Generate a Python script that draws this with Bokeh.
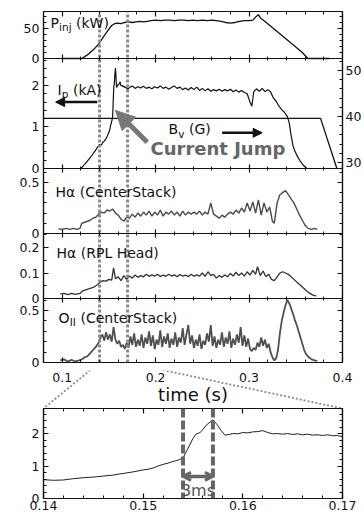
from bokeh.plotting import figure
from bokeh.models import (Range1d, LinearAxis, Label, Arrow, NormalHead, OpenHead, Span,
                          SingleIntervalTicker, FixedTicker, NumeralTickFormatter,
                          CustomJSTickFormatter)
from bokeh.core.properties import value
from bokeh.layouts import column
from bokeh.embed import file_html
from bokeh.resources import INLINE

# ---------------- data ----------------
x_main = [0.08, 0.40]        # time axis of the stacked panels (s)
x_main_ticks = [0.1, 0.2, 0.3, 0.4]
x_zoom = [0.14, 0.17]        # zoom window, marked by the dotted lines
x_zoom_ticks = [0.14, 0.15, 0.16, 0.17]
jump_t = [0.154, 0.157]      # the 3 ms current jump
main_ticks_label = "time (s)"

pinj_t = [0.100, 0.121, 0.127, 0.133, 0.138, 0.142, 0.146, 0.150, 0.153, 0.156,
          0.159, 0.163, 0.167, 0.171, 0.175, 0.179, 0.183, 0.187, 0.191, 0.195,
          0.200, 0.205, 0.210, 0.215, 0.220, 0.225, 0.230, 0.235, 0.240, 0.245,
          0.250, 0.255, 0.260, 0.265, 0.270, 0.275, 0.280, 0.285, 0.290, 0.295,
          0.300, 0.304, 0.307, 0.310, 0.312, 0.320, 0.330, 0.340, 0.350, 0.357,
          0.363, 0.375, 0.386]
pinj_kw = [0, 0, 6, 14, 22, 31, 40, 49, 55, 58,
           59, 58, 60, 61, 60, 61, 62, 61, 62, 63,
           64, 63, 64, 64, 63, 64, 64, 63, 64, 63,
           64, 63, 64, 63, 62, 60, 59, 60, 62, 63,
           63, 64, 69, 73, 68, 58, 45, 32, 19, 10,
           0, 0, 0]

ip_rise_t = [0.120, 0.124, 0.128, 0.132, 0.136]
ip_rise = [0.00, 0.10, 0.21, 0.32, 0.45]

zoom_t = [0.1400, 0.1410, 0.1420, 0.1430, 0.1440, 0.1450, 0.1460, 0.1470, 0.1475, 0.1480,
          0.1490, 0.1500, 0.1505, 0.1510, 0.1515, 0.1520, 0.1525, 0.1530, 0.1535, 0.1540,
          0.1545, 0.1550, 0.1553, 0.1557, 0.1560, 0.1563, 0.1567, 0.1570, 0.1574, 0.1578,
          0.1582, 0.1586, 0.1590, 0.1595, 0.1600, 0.1605, 0.1610, 0.1615, 0.1620, 0.1625,
          0.1630, 0.1635, 0.1640, 0.1645, 0.1650, 0.1655, 0.1660, 0.1665, 0.1670, 0.1675,
          0.1680, 0.1685, 0.1690, 0.1695, 0.1700]
zoom_ip = [0.58, 0.56, 0.57, 0.61, 0.64, 0.66, 0.69, 0.72, 0.75, 0.77,
           0.82, 0.88, 0.90, 0.94, 1.00, 1.05, 1.09, 1.14, 1.18, 1.25,
           1.55, 1.85, 1.98, 2.03, 2.12, 2.25, 2.35, 2.42, 2.28, 2.10,
           1.95, 1.97, 2.00, 1.99, 2.03, 2.02, 2.05, 2.06, 2.09, 2.03,
           1.99, 2.00, 1.98, 2.00, 1.97, 1.99, 1.96, 1.98, 1.95, 1.96,
           1.94, 1.96, 1.93, 1.94, 1.90]

ip_late = [(0.172, 1.95), (0.175, 1.99), (0.178, 1.93), (0.181, 1.97), (0.184, 1.94),
           (0.187, 1.98), (0.190, 1.93), (0.193, 1.96), (0.196, 1.92), (0.199, 1.97),
           (0.202, 1.94), (0.205, 1.99), (0.208, 1.93), (0.211, 1.96), (0.214, 1.91),
           (0.217, 1.95), (0.220, 1.99), (0.223, 1.93), (0.226, 1.96), (0.229, 1.90),
           (0.232, 1.94), (0.235, 1.89), (0.238, 1.95), (0.241, 1.90), (0.244, 1.96),
           (0.247, 1.88), (0.250, 1.93), (0.253, 1.87), (0.256, 1.92), (0.259, 1.86),
           (0.262, 1.90), (0.265, 1.87), (0.268, 1.91), (0.271, 1.86), (0.274, 1.90),
           (0.277, 1.87), (0.280, 1.91), (0.283, 1.85), (0.286, 1.89), (0.289, 1.84),
           (0.292, 1.88), (0.295, 1.83), (0.298, 1.80), (0.301, 1.60), (0.303, 1.50),
           (0.305, 1.85), (0.308, 1.92), (0.311, 1.86), (0.314, 1.93), (0.317, 1.85),
           (0.320, 1.90), (0.323, 1.85), (0.326, 1.70), (0.329, 1.62), (0.332, 1.50),
           (0.335, 1.42), (0.338, 1.35), (0.341, 1.25), (0.343, 1.10), (0.345, 0.80),
           (0.347, 0.55), (0.349, 0.42), (0.352, 0.28), (0.355, 0.17), (0.358, 0.08),
           (0.362, 0.00)]

bv_t = [0.080, 0.3765, 0.394]
bv_g = [39.6, 39.6, 28.7]

ha_cs = [(0.096, 0.045), (0.100, 0.040), (0.104, 0.050), (0.108, 0.040), (0.112, 0.050),
         (0.116, 0.040), (0.119, 0.050), (0.121, 0.10), (0.124, 0.11), (0.127, 0.12),
         (0.130, 0.13), (0.133, 0.15), (0.136, 0.16), (0.139, 0.19), (0.142, 0.21),
         (0.145, 0.20), (0.148, 0.23), (0.151, 0.22), (0.154, 0.24), (0.157, 0.20),
         (0.160, 0.18), (0.163, 0.14), (0.166, 0.12), (0.169, 0.16), (0.172, 0.15),
         (0.175, 0.19), (0.178, 0.16), (0.181, 0.20), (0.184, 0.17), (0.187, 0.21),
         (0.190, 0.18), (0.193, 0.22), (0.196, 0.17), (0.199, 0.21), (0.202, 0.18),
         (0.205, 0.23), (0.208, 0.17), (0.211, 0.21), (0.214, 0.19), (0.217, 0.22),
         (0.220, 0.18), (0.223, 0.21), (0.226, 0.17), (0.229, 0.22), (0.232, 0.18),
         (0.235, 0.21), (0.238, 0.19), (0.241, 0.21), (0.244, 0.19), (0.247, 0.22),
         (0.250, 0.18), (0.253, 0.21), (0.256, 0.19), (0.259, 0.30), (0.262, 0.19),
         (0.265, 0.17), (0.268, 0.15), (0.271, 0.18), (0.274, 0.16), (0.277, 0.19),
         (0.280, 0.21), (0.283, 0.19), (0.286, 0.23), (0.289, 0.20), (0.292, 0.25),
         (0.295, 0.21), (0.298, 0.30), (0.301, 0.22), (0.304, 0.31), (0.307, 0.20),
         (0.310, 0.33), (0.313, 0.18), (0.316, 0.30), (0.319, 0.21), (0.322, 0.26),
         (0.325, 0.12), (0.327, 0.10), (0.330, 0.30), (0.333, 0.38), (0.336, 0.40),
         (0.339, 0.42), (0.342, 0.38), (0.345, 0.34), (0.348, 0.30), (0.351, 0.24),
         (0.354, 0.18), (0.357, 0.13), (0.360, 0.08), (0.363, 0.05), (0.367, 0.04),
         (0.370, 0.05), (0.373, 0.04)]

ha_rpl = [(0.098, 0.018), (0.102, 0.020), (0.106, 0.015), (0.110, 0.020), (0.114, 0.016),
          (0.119, 0.020), (0.122, 0.030), (0.126, 0.035), (0.130, 0.040), (0.134, 0.045),
          (0.138, 0.055), (0.141, 0.065), (0.144, 0.070), (0.147, 0.068), (0.150, 0.075),
          (0.153, 0.072), (0.155, 0.120), (0.157, 0.078), (0.160, 0.085), (0.163, 0.070),
          (0.166, 0.090), (0.169, 0.075), (0.172, 0.088), (0.175, 0.080), (0.178, 0.092),
          (0.181, 0.083), (0.184, 0.090), (0.187, 0.085), (0.190, 0.095), (0.193, 0.087),
          (0.196, 0.093), (0.199, 0.088), (0.202, 0.095), (0.205, 0.086), (0.208, 0.092),
          (0.211, 0.087), (0.214, 0.095), (0.217, 0.088), (0.220, 0.093), (0.223, 0.085),
          (0.226, 0.094), (0.229, 0.088), (0.232, 0.092), (0.235, 0.086), (0.238, 0.095),
          (0.241, 0.087), (0.244, 0.093), (0.247, 0.088), (0.250, 0.100), (0.253, 0.087),
          (0.256, 0.105), (0.259, 0.090), (0.262, 0.095), (0.265, 0.080), (0.268, 0.090),
          (0.271, 0.083), (0.274, 0.092), (0.277, 0.086), (0.280, 0.098), (0.283, 0.088),
          (0.286, 0.103), (0.289, 0.090), (0.292, 0.100), (0.295, 0.088), (0.298, 0.105),
          (0.301, 0.092), (0.304, 0.110), (0.307, 0.095), (0.309, 0.125), (0.312, 0.090),
          (0.315, 0.108), (0.318, 0.085), (0.321, 0.095), (0.324, 0.075), (0.327, 0.070),
          (0.330, 0.085), (0.333, 0.100), (0.336, 0.105), (0.339, 0.100), (0.342, 0.095),
          (0.345, 0.085), (0.348, 0.075), (0.351, 0.065), (0.354, 0.055), (0.357, 0.045),
          (0.360, 0.035), (0.363, 0.025), (0.366, 0.018), (0.369, 0.012), (0.372, 0.010)]

o2_cs = [(0.098, 0.02), (0.102, 0.03), (0.106, 0.01), (0.110, 0.025), (0.114, 0.01),
         (0.118, 0.02), (0.121, 0.03), (0.124, 0.05), (0.127, 0.06), (0.130, 0.09),
         (0.133, 0.12), (0.136, 0.15), (0.139, 0.19), (0.141, 0.24), (0.143, 0.27),
         (0.145, 0.21), (0.147, 0.29), (0.149, 0.22), (0.151, 0.27), (0.153, 0.20),
         (0.155, 0.34), (0.157, 0.22), (0.159, 0.18), (0.161, 0.21), (0.163, 0.15),
         (0.165, 0.17), (0.167, 0.13), (0.169, 0.19), (0.171, 0.14), (0.173, 0.25),
         (0.175, 0.17), (0.177, 0.28), (0.179, 0.15), (0.181, 0.22), (0.183, 0.16),
         (0.185, 0.27), (0.187, 0.14), (0.189, 0.24), (0.191, 0.18), (0.193, 0.30),
         (0.195, 0.16), (0.197, 0.26), (0.199, 0.13), (0.201, 0.22), (0.203, 0.17),
         (0.205, 0.31), (0.207, 0.15), (0.209, 0.25), (0.211, 0.18), (0.213, 0.28),
         (0.215, 0.14), (0.217, 0.23), (0.219, 0.17), (0.221, 0.29), (0.223, 0.15),
         (0.225, 0.24), (0.227, 0.19), (0.229, 0.33), (0.231, 0.17), (0.233, 0.27),
         (0.235, 0.36), (0.237, 0.18), (0.239, 0.26), (0.241, 0.14), (0.243, 0.22),
         (0.245, 0.16), (0.247, 0.27), (0.249, 0.13), (0.251, 0.21), (0.253, 0.17),
         (0.255, 0.28), (0.257, 0.20), (0.259, 0.36), (0.261, 0.16), (0.263, 0.25),
         (0.265, 0.14), (0.267, 0.22), (0.269, 0.17), (0.271, 0.29), (0.273, 0.15),
         (0.275, 0.24), (0.277, 0.18), (0.279, 0.30), (0.281, 0.14), (0.283, 0.23),
         (0.285, 0.17), (0.287, 0.27), (0.289, 0.19), (0.291, 0.34), (0.293, 0.16),
         (0.295, 0.26), (0.297, 0.15), (0.299, 0.23), (0.301, 0.13), (0.303, 0.11),
         (0.305, 0.14), (0.307, 0.12), (0.309, 0.19), (0.311, 0.15), (0.313, 0.24),
         (0.315, 0.16), (0.317, 0.22), (0.319, 0.14), (0.321, 0.18), (0.323, 0.10),
         (0.325, 0.05), (0.327, 0.02), (0.329, 0.04), (0.331, 0.12), (0.333, 0.28),
         (0.335, 0.40), (0.337, 0.48), (0.339, 0.55), (0.341, 0.60), (0.343, 0.57),
         (0.345, 0.52), (0.347, 0.47), (0.349, 0.41), (0.351, 0.36), (0.353, 0.30),
         (0.355, 0.24), (0.357, 0.18), (0.359, 0.12), (0.361, 0.08), (0.364, 0.05),
         (0.367, 0.03), (0.370, 0.02), (0.373, 0.015)]

# panel value limits (bottom, top) and tick steps (major interval, minor subdivisions)
panel_lims = {"pinj": (0.0, 78.3), "ip": (0.0, 2.65), "hacs": (0.0, 0.637),
              "rpl": (0.0, 0.255), "oii": (0.0, 0.615)}
bv_lims = (28.7, 52.6)
zoom_lims = (0.0, 2.77)
tick_steps = {"pinj": (50, 5), "ip": (1, 5), "hacs": (0.5, 5), "rpl": (0.1, 2), "oii": (0.5, 5)}
bv_step = (10, 5)

# ---------------- layout ----------------
FONT = "DejaVu Sans"
TICK_FS = "12.5px"
INK = "#111111"
FW = 299                      # width of the plotting boxes
LEFT, RIGHT, TOP = 43, 22, 11
BOT = 8                       # room below the stacked panels for the last "0" label
band_h = [("pinj", 47), ("ip", 110), ("hacs", 65), ("rpl", 65), ("oii", 64)]
FH = sum(h for _, h in band_h)
CONN_H = 46                   # gap between the panels and the zoom box
ZH = 90

ranges = {}
band_px = {}
top = FH
for name, h in band_h:
    bot = top - h
    lo, hi = panel_lims[name]
    s = (hi - lo) / h
    ranges[name] = Range1d(lo - bot * s, hi + (FH - top) * s)
    band_px[name] = (bot, top)
    top = bot
b0, b1 = band_px["ip"]
s = (bv_lims[1] - bv_lims[0]) / (b1 - b0)
ranges["bv"] = Range1d(bv_lims[0] - b0 * s, bv_lims[1] + (FH - b1) * s)


def tick_values(lo, hi, iv, mn):
    step = iv / mn
    k = int(-(-lo // step))
    majors, minors = [], []
    while k * step <= hi + 1e-9:
        v = round(k * step, 6)
        (majors if k % mn == 0 else minors).append(v)
        k += 1
    return majors, minors


def to_px(lims, band, v):
    (lo, hi), (bot, top) = lims, band
    return bot + (v - lo) / (hi - lo) * (top - bot)


def side_ticker(use_bv):
    majors, minors, labels = [], [], []
    for name, h in band_h:
        if use_bv and name == "ip":
            lims, (iv, mn), show = bv_lims, bv_step, True
        else:
            lims, (iv, mn), show = panel_lims[name], tick_steps[name], not use_bv
        mj, mi = tick_values(lims[0], lims[1], iv, mn)
        for v in mj:
            majors.append(to_px(lims, band_px[name], v))
            labels.append(f"{v:g}" if show else "")
        minors += [to_px(lims, band_px[name], v) for v in mi]
    fmt = CustomJSTickFormatter(args=dict(pos=majors, lab=labels), code="""
        let best = ""; let d = 1e9;
        for (let i = 0; i < pos.length; i++) {
            const e = Math.abs(pos[i] - tick);
            if (e < d) { d = e; best = lab[i]; }
        }
        return d < 0.01 ? best : "";
    """)
    return FixedTicker(ticks=majors, minor_ticks=minors), fmt


def axis(ticker, tin, tout, mtin, mtout, labels=True, standoff=4, formatter=None, **kw):
    return LinearAxis(
        ticker=ticker,
        formatter=formatter or NumeralTickFormatter(format="0.[00]"),
        major_tick_in=tin, major_tick_out=tout, minor_tick_in=mtin, minor_tick_out=mtout,
        axis_line_color=INK, axis_line_width=1.2,
        major_tick_line_color=INK, minor_tick_line_color=INK,
        major_tick_line_width=1.2, minor_tick_line_width=1,
        major_label_text_font=FONT,
        major_label_text_font_size=TICK_FS if labels else "0px",
        major_label_text_color=INK if labels else None,
        major_label_text_line_height=1.0,
        major_label_standoff=standoff if labels else 0, **kw)


def main_xticker():
    minors = [round(0.08 + 0.02 * i, 2) for i in range(17)]
    return FixedTicker(ticks=x_main_ticks, minor_ticks=minors)


def zoom_xticker():
    minors = [round(0.14 + 0.002 * i, 3) for i in range(16)]
    return FixedTicker(ticks=x_zoom_ticks, minor_ticks=minors)


# ---------------- stacked panels ----------------
p = figure(frame_width=FW, frame_height=FH, x_range=Range1d(*x_main), y_range=Range1d(0, FH),
           x_axis_type=None, y_axis_type=None, toolbar_location=None, output_backend="svg",
           min_border_left=LEFT, min_border_right=RIGHT, min_border_top=TOP,
           min_border_bottom=BOT,
           outline_line_color=INK, outline_line_width=1.2,
           background_fill_color="white", border_fill_color="white")
p.extra_y_ranges = ranges
p.grid.visible = False

lt, lf = side_ticker(False)
p.add_layout(axis(lt, 5, 0, 3, 0, standoff=4, formatter=lf), "left")
rt, rf = side_ticker(True)
p.add_layout(axis(rt, 5, 0, 3, 0, standoff=3, formatter=rf), "right")
p.add_layout(axis(main_xticker(), 5, 0, 3, 0, labels=False, y_range_name="pinj",
                  fixed_location=panel_lims["pinj"][1]), "above")
for name in ["pinj", "ip", "hacs", "rpl"]:
    p.add_layout(axis(main_xticker(), 4, 4, 2, 2, labels=False, y_range_name=name,
                      fixed_location=panel_lims[name][0]), "below")
p.add_layout(axis(main_xticker(), 5, 0, 3, 0, labels=False, y_range_name="oii",
                  fixed_location=panel_lims["oii"][0]), "below")

ip_late_t, ip_late_v = zip(*ip_late)
ip_t = list(ip_rise_t) + list(zoom_t) + list(ip_late_t)
ip_v = list(ip_rise) + list(zoom_ip) + list(ip_late_v)
p.line(pinj_t, pinj_kw, y_range_name="pinj", line_color=INK, line_width=1.3)
p.line(bv_t, bv_g, y_range_name="bv", line_color=INK, line_width=1.3)
p.line(ip_t, ip_v, y_range_name="ip", line_color=INK, line_width=1.2)
t, v = zip(*ha_cs)
p.line(list(t), list(v), y_range_name="hacs", line_color="#4a4a4a", line_width=1.4)
t, v = zip(*ha_rpl)
p.line(list(t), list(v), y_range_name="rpl", line_color="#333333", line_width=1.3)
t, v = zip(*o2_cs)
p.line(list(t), list(v), y_range_name="oii", line_color="#505050", line_width=1.8)

r_oii = ranges["oii"]
p.segment(x0=x_zoom, y0=[0, 0], x1=x_zoom, y1=[r_oii.end] * 2, y_range_name="oii",
          line_color="#8a8a8a", line_width=3, line_dash="3 2")


def lab(fig, x, y, text, rng=None, size="14px", dx=0, dy=0, **kw):
    extra = {"y_range_name": rng} if rng else {}
    kw.setdefault("text_color", INK)
    fig.add_layout(Label(x=x, y=y, text=text, x_offset=dx, y_offset=dy, text_font=FONT,
                         text_font_size=size, text_baseline="middle", **extra, **kw))


SUB = "10.5px"
SDY = -4.5
lab(p, 0.0875, 59.2, "P", "pinj")
lab(p, 0.0875, 59.2, "inj", "pinj", size=SUB, dx=8.6, dy=SDY)
lab(p, 0.0875, 59.2, "(kW)", "pinj", dx=25.5)

lab(p, 0.095, 1.90, "I", "ip")
lab(p, 0.095, 1.90, "p", "ip", size=SUB, dx=4.3, dy=SDY)
lab(p, 0.095, 1.90, "(kA)", "ip", dx=15.4)
p.add_layout(Arrow(end=NormalHead(size=9, fill_color=INK, line_color=INK),
                   x_start=0.1375, y_start=1.60, x_end=0.093, y_end=1.60,
                   line_width=2.5, line_color=INK, y_range_name="ip"))

lab(p, 0.2138, 0.94, "B", "ip")
lab(p, 0.2138, 0.94, "v", "ip", size=SUB, dx=9.8, dy=SDY)
lab(p, 0.2138, 0.94, "(G)", "ip", dx=20.5)
p.add_layout(Arrow(end=NormalHead(size=9, fill_color=INK, line_color=INK),
                   x_start=0.2712, y_start=0.86, x_end=0.314, y_end=0.86,
                   line_width=2.5, line_color=INK, y_range_name="ip"))

p.add_layout(Arrow(end=NormalHead(size=19, fill_color="#777777", line_color="#777777"),
                   x_start=0.191, y_start=0.63, x_end=0.157, y_end=1.40,
                   line_width=5, line_color="#777777", y_range_name="ip"))
lab(p, 0.1945, 0.48, "Current Jump", "ip", size="18px", text_font_style="bold",
    text_color="#666666")

lab(p, 0.0928, 0.407, "Hα (CenterStack)", "hacs")
lab(p, 0.094, 0.178, "Hα (RPL Head)", "rpl")
lab(p, 0.096, 0.428, "O", "oii")
lab(p, 0.096, 0.428, "II", "oii", size=SUB, dx=11.3, dy=SDY)
lab(p, 0.096, 0.428, "(CenterStack)", "oii", dx=22.0)

# ---------------- time-axis labels and zoom connectors ----------------
# y is measured in pixels up from the zoom box; the panels' bottom edge sits at CONN_H,
# just above this strip (the strip itself starts BOT pixels lower).
ux = (x_main[1] - x_main[0]) / FW
CH = CONN_H - BOT
c = figure(frame_width=FW + RIGHT, frame_height=CH,
           x_range=Range1d(x_main[0], x_main[1] + RIGHT * ux), y_range=Range1d(0, CH),
           x_axis_type=None, y_axis_type=None, toolbar_location=None, output_backend="svg",
           min_border_left=LEFT, min_border_right=0, min_border_top=0, min_border_bottom=0,
           outline_line_color=None,
           background_fill_color="white", border_fill_color="white")
c.grid.visible = False
c.segment(x0=x_zoom, y0=[CONN_H, CONN_H], x1=x_main, y1=[0, 0],
          line_color="#8a8a8a", line_width=1.8, line_dash="2 2")
c.text(x=x_main_ticks, y=[CH - 2] * len(x_main_ticks),
       text=[f"{t:g}" for t in x_main_ticks], text_align="center", text_baseline="top",
       text_font=value(FONT), text_font_size=value(TICK_FS), text_color=INK)
c.text(x=[sum(x_main) / 2], y=[CONN_H - 32], text=[main_ticks_label],
       text_align="center", text_baseline="middle",
       text_font=value(FONT), text_font_size=value("18px"), text_color=INK)

# ---------------- zoom panel ----------------
z = figure(frame_width=FW, frame_height=ZH, x_range=Range1d(*x_zoom), y_range=Range1d(*zoom_lims),
           x_axis_type=None, y_axis_type=None, toolbar_location=None, output_backend="svg",
           min_border_left=LEFT, min_border_right=RIGHT, min_border_top=0, min_border_bottom=0,
           outline_line_color=INK, outline_line_width=1.2,
           background_fill_color="white", border_fill_color="white")
z.grid.visible = False
z.add_layout(axis(zoom_xticker(), 5, 0, 3, 0, standoff=2), "below")
z.add_layout(axis(SingleIntervalTicker(interval=1, num_minor_ticks=5), 5, 0, 3, 0), "left")
z.add_layout(axis(zoom_xticker(), 5, 0, 3, 0, labels=False, fixed_location=zoom_lims[1]), "above")
z.add_layout(axis(SingleIntervalTicker(interval=1, num_minor_ticks=5), 5, 0, 3, 0, labels=False),
             "right")

z.line(zoom_t, zoom_ip, line_color="#222222", line_width=1.0)
for tj in jump_t:
    z.add_layout(Span(location=tj, dimension="height", line_color="#666666",
                      line_width=4, line_dash="9 3"))
z.add_layout(Arrow(start=OpenHead(size=8, line_width=3, line_color="#666666"),
                   end=OpenHead(size=8, line_width=3, line_color="#666666"),
                   x_start=jump_t[0], y_start=0.68, x_end=jump_t[1], y_end=0.68,
                   line_width=3.5, line_color="#666666"))
lab(z, (jump_t[0] + jump_t[1]) / 2, 0.24, "3ms", size="16px", text_align="center",
    text_color="#555555")

layout = column(p, c, z)
open("out.html", "w").write(file_html(layout, INLINE))
